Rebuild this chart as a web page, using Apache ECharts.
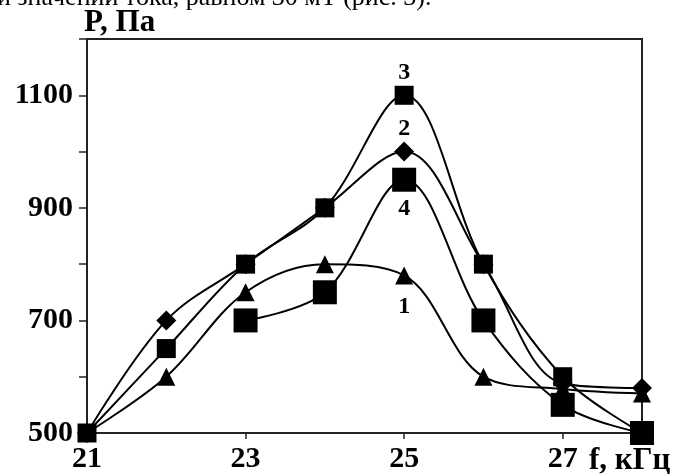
<!DOCTYPE html>
<html>
<head>
<meta charset="utf-8">
<script src="https://cdn.jsdelivr.net/npm/echarts@6/dist/echarts.min.js"></script>
<style>
html,body{margin:0;padding:0;background:#fff;}
#chart{width:680px;height:474px;}
</style>
</head>
<body>
<div id="chart"></div>
<script>
// Frequency f, kHz
const freqs = [21, 22, 23, 24, 25, 26, 27, 28];
// Pressure P, Pa (null = no measurement)
const curve1 = [500, 600, 750, 800, 780, 600, 578, 570];
const curve2 = [500, 700, 800, 900, 1000, 800, 588, 580];
const curve3 = [500, 650, 800, 900, 1100, 800, 600, 500];
const curve4 = [null, null, 700, 750, 950, 700, 550, 500];
const curveNames = ['1', '2', '3', '4'];
const xTickLabels = ['21', '23', '25', '27'];
const yTickLabels = ['500', '700', '900', '1100'];
const headerText = 'при значении тока, равном 30 мТ (рис. 3).';
const yAxisTitle = 'P, Па';
const xAxisTitle = 'f, кГц';

const serif = '"Liberation Serif", "DejaVu Serif", serif';

function curveLabel(text, pos, dist) {
  return { show: true, position: pos, formatter: text, fontFamily: serif, fontWeight: 'bold',
           fontSize: 24, color: '#000', distance: dist };
}

function pairs(vals, labelX, labelText, labelPos, dist) {
  const out = [];
  vals.forEach((v, i) => {
    if (v === null) return;
    const item = { value: [freqs[i], v] };
    if (freqs[i] === labelX) item.label = curveLabel(labelText, labelPos, dist);
    out.push(item);
  });
  return out;
}

const lineStyle = { color: '#000', width: 2 };

const chart = echarts.init(document.getElementById('chart'), null, { renderer: 'canvas' });
chart.setOption({
  animation: false,
  backgroundColor: '#fff',
  grid: { left: 87, top: 39, right: 38, bottom: 39, show: true, borderColor: '#222', borderWidth: 2, backgroundColor: 'transparent' },
  graphic: [
    { type: 'text', left: -30, top: -15, style: { text: headerText, font: '26px ' + serif, fill: '#000' } },
    { type: 'text', left: 84, top: 7, style: { text: yAxisTitle, font: 'bold 31px ' + serif, fill: '#000' } },
    { type: 'text', left: 589, top: 445, style: { text: xAxisTitle, font: 'bold 31px ' + serif, fill: '#000' } }
  ],
  xAxis: {
    type: 'value', min: 21, max: 28, interval: 2,
    axisLine: { show: true, lineStyle: { color: '#222', width: 2 } },
    axisTick: { show: true, length: 6, lineStyle: { color: '#222', width: 1.5 } },
    splitLine: { show: false },
    axisLabel: {
      margin: 11, fontFamily: serif, fontWeight: 'bold', fontSize: 30, color: '#000',
      formatter: v => (xTickLabels.indexOf(String(v)) >= 0 ? String(v) : '')
    }
  },
  yAxis: {
    type: 'value', min: 500, max: 1200, interval: 100,
    axisLine: { show: true, lineStyle: { color: '#222', width: 2 } },
    axisTick: { show: true, length: 8, lineStyle: { color: '#222', width: 1.5 } },
    splitLine: { show: false },
    axisLabel: {
      margin: 14, fontFamily: serif, fontWeight: 'bold', fontSize: 30, color: '#000',
      formatter: v => (yTickLabels.indexOf(String(v)) >= 0 ? String(v) : '')
    }
  },
  series: [
    { name: curveNames[0], type: 'line', smooth: 0.35, symbol: 'triangle', symbolSize: 18,
      itemStyle: { color: '#000' }, lineStyle: lineStyle, data: pairs(curve1, 25, curveNames[0], 'bottom', 10) },
    { name: curveNames[1], type: 'line', smooth: 0.35, symbol: 'diamond', symbolSize: 20,
      itemStyle: { color: '#000' }, lineStyle: lineStyle, data: pairs(curve2, 25, curveNames[1], 'top', 1) },
    { name: curveNames[2], type: 'line', smooth: 0.35, symbol: 'rect', symbolSize: 19,
      itemStyle: { color: '#000' }, lineStyle: lineStyle, data: pairs(curve3, 25, curveNames[2], 'top', 1) },
    { name: curveNames[3], type: 'line', smooth: 0.35, symbol: 'rect', symbolSize: 24,
      itemStyle: { color: '#000' }, lineStyle: lineStyle, data: pairs(curve4, 25, curveNames[3], 'bottom', 5) }
  ]
});
</script>
</body>
</html>
